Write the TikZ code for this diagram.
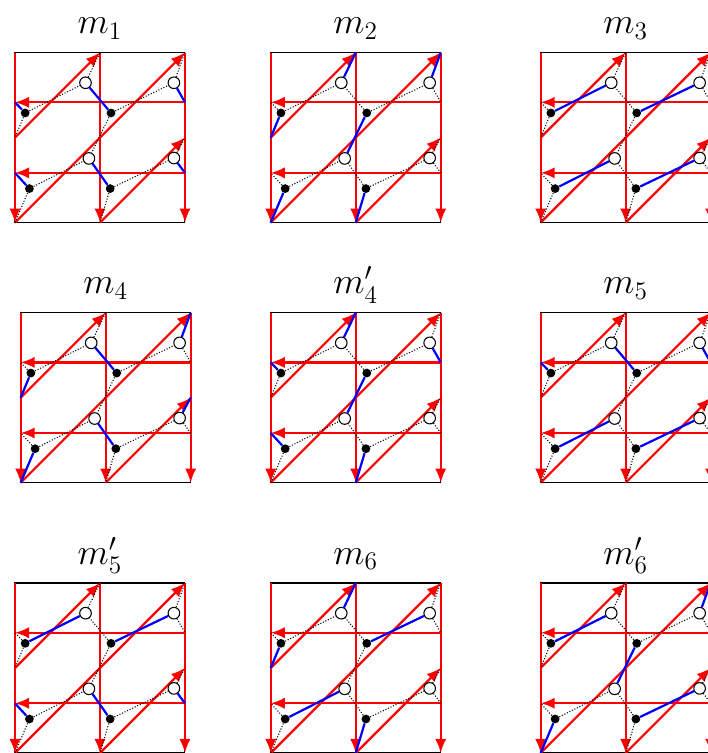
\documentclass[tikz,border=0pt]{standalone}
\usetikzlibrary{arrows.meta}

\begin{document}
\begin{tikzpicture}[x=1.7cm,y=1.7cm,
  zz/.style={red,line width=1.25pt,-{Latex[length=8pt,width=6.4pt]}},
  ed/.style={dash pattern=on 0.6pt off 1pt,line width=0.6pt},
  dm/.style={blue,line width=1.25pt},
  bd/.style={circle,fill=black,inner sep=0pt,minimum size=5pt},
  wd/.style={circle,draw=black,fill=white,line width=0.6pt,inner sep=0pt,minimum size=6.6pt}]
\useasboundingbox (0,0) rectangle (8.329,8.859);
\clip (0,0) rectangle (8.329,8.859);
\foreach \px/\py/\lab/\bl in {
  0.176/6.24/{m_1}/{b1/lh,w2/rh,w1/b2,w3/b4,b3/lk,w4/rk},
  3.185/6.24/{m_2}/{w1/t1,b4/d1,w2/t2,b3/d0,b1/l1,b2/w3},
  6.361/6.24/{m_3}/{b1/w1,b2/w2,b3/w3,b4/w4},
  0.243/3.18/{m_4}/{b1/l1,w4/r1,w1/b2,w2/t2,b3/d0,w3/b4},
  3.185/3.18/{m_4'}/{w1/t1,b4/d1,b1/lh,w2/rh,b2/w3,b3/lk},
  6.361/3.18/{m_5}/{b1/lh,w2/rh,w1/b2,b3/w3,b4/w4},
  0.176/0.0/{m_5'}/{b1/w1,b2/w2,b3/lk,w4/rk,w3/b4},
  3.185/0.0/{m_6}/{w1/t1,b4/d1,b1/l1,b2/w2,b3/w3},
  6.361/0.0/{m_6'}/{b1/w1,w2/t2,b3/d0,b2/w3,b4/w4}} {
\begin{scope}[shift={(\px,\py)}]
\foreach \n/\x/\y in {d0/0/0,d1/1/0,d2/2/0,t0/0/2,t1/1/2,t2/2/2,l1/0/1,r1/2/1,
  lh/0/1.415,rh/2/1.415,lk/0/0.585,rk/2/0.585} {\coordinate (\n) at (\x,\y);}
\draw[black,line width=0.6pt] (d0) rectangle (t2);
\node[anchor=base] (lbl) at (1,2.22) {\huge$\lab$};
% zig-zag paths
\foreach \a/\b in {t0/d0,t1/d1,t2/d2,rh/lh,rk/lk,l1/t1,d0/t2,d1/r1} {\draw[zz] (\a)--(\b);}
% black and white vertices
\foreach \n/\x/\y in {b1/0.12/1.29,b2/1.13/1.29,b3/0.17/0.40,b4/1.12/0.40} {\node[bd] (\n) at (\x,\y) {};}
\foreach \n/\x/\y in {w1/0.83/1.645,w2/1.87/1.645,w3/0.87/0.755,w4/1.87/0.76} {\node[wd] (\n) at (\x,\y) {};}
\foreach \a/\b in {b1/w1,b1/l1,w4/r1,b1/lh,w2/rh,b2/w1,b2/w2,b2/w3,b3/w3,b3/d0,w2/t2,
  b3/lk,w4/rk,b4/w3,b4/w4,b4/d1,w1/t1} {\draw[ed] (\a)--(\b);}
% the matching
\foreach \a/\b in \bl {\draw[dm] (\a)--(\b);}
\end{scope}}
\end{tikzpicture}
\end{document}
